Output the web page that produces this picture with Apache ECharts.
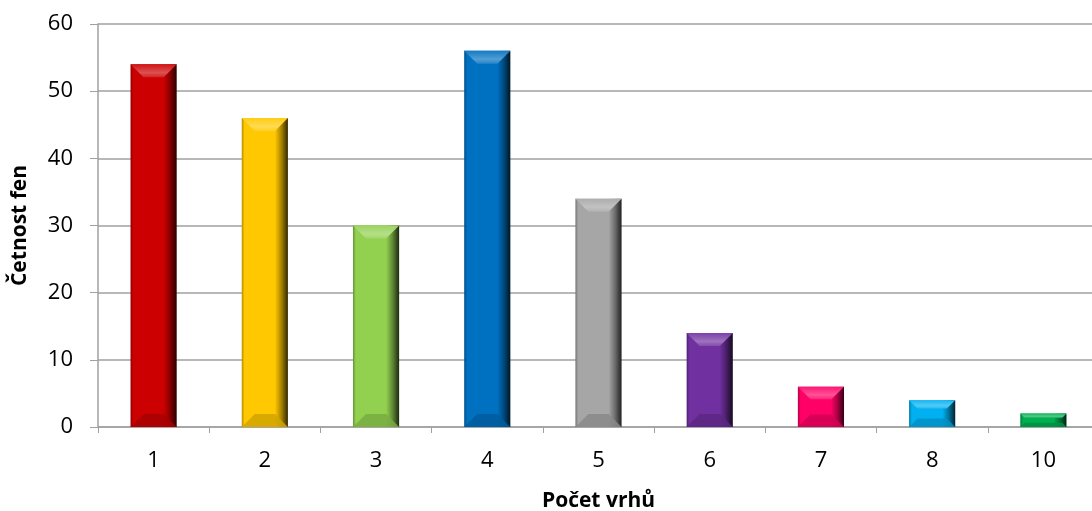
<!DOCTYPE html>
<html><head><meta charset="utf-8">
<script src="https://cdn.jsdelivr.net/npm/echarts@6/dist/echarts.min.js"></script>
<style>html,body{margin:0;padding:0;background:#fff}#c{width:1092px;height:511px}</style>
</head><body><div id="c"></div>
<script>
const categories = ['1','2','3','4','5','6','7','8','10'];
const values = [54, 46, 30, 56, 34, 14, 6, 4, 2];
const barColors = ['#CC0000','#FFC800','#92D050','#0070C0','#A6A6A6','#7030A0','#FF0066','#00B0F0','#00B050'];
const yTicks = [0,10,20,30,40,50,60];

function hexToRgb(h){h=h.replace('#','');return [parseInt(h.substr(0,2),16),parseInt(h.substr(2,2),16),parseInt(h.substr(4,2),16)];}
function mix(h, t, k){const c=hexToRgb(h);const r=c.map(v=>Math.round(v+(t-v)*k));return 'rgb('+r.join(',')+')';}
const lighten=(h,k)=>mix(h,255,k), darken=(h,k)=>mix(h,0,k);

function renderItem(params, api){
  const i = params.dataIndex;
  const col = barColors[i % barColors.length];
  const top = api.coord([api.value(0), api.value(1)]);
  const base = api.coord([api.value(0), 0]);
  const bw = api.size([1,0])[0]*0.415;
  const x0 = top[0]-bw/2, x1 = top[0]+bw/2, y0 = top[1], y1 = base[1];
  const h = y1-y0;
  const d = Math.min(13, h/3.2);
  const children = [
    {type:'rect', shape:{x:x0,y:y0,width:bw,height:h}, style:{fill:new echarts.graphic.LinearGradient(0,0,1,0,[
      {offset:0,color:darken(col,0.3)},{offset:0.06,color:col},{offset:0.72,color:col},
      {offset:0.86,color:darken(col,0.35)},{offset:1,color:darken(col,0.8)}])}},
    {type:'polygon', shape:{points:[[x0,y0],[x1,y0],[x1-d,y0+d],[x0+d,y0+d]]},
      style:{fill:new echarts.graphic.LinearGradient(0,0,0,1,[
        {offset:0,color:lighten(col,0.08)},{offset:0.65,color:lighten(col,0.32)},{offset:1,color:lighten(col,0.14)}])}},
    {type:'polygon', shape:{points:[[x0,y1],[x1,y1],[x1-d,y1-d],[x0+d,y1-d]]},
      style:{fill:darken(col,0.18), opacity:0.85}}
  ];
  return {type:'group', children};
}

const chart = echarts.init(document.getElementById('c'));
const ff = '"Open Sans", "Noto Sans", sans-serif';
chart.setOption({
  animation:false,
  grid:{left:98, right:-7, top:24, bottom:84, containLabel:false, outerBoundsMode:'none'},
  xAxis:{type:'category', data:categories,
    name:'Počet vrhů', nameLocation:'middle', nameGap:64,
    nameTextStyle:{fontFamily:ff, fontWeight:'bold', fontSize:21, color:'#000'},
    axisLine:{lineStyle:{color:'#A0A0A0', width:1.5}},
    axisTick:{show:true, length:6, lineStyle:{color:'#A0A0A0'}},
    axisLabel:{fontFamily:ff, fontSize:22, color:'#000', margin:23}},
  yAxis:{type:'value', min:yTicks[0], max:yTicks[yTicks.length-1], interval:10,
    name:'Četnost fen', nameLocation:'middle', nameGap:67,
    nameTextStyle:{fontFamily:ff, fontWeight:'bold', fontSize:21, color:'#000'},
    axisLine:{show:true, lineStyle:{color:'#A0A0A0', width:1.5}},
    axisTick:{show:true, length:8, lineStyle:{color:'#A0A0A0'}},
    splitLine:{lineStyle:{color:'#A0A0A0', width:1.5}},
    axisLabel:{fontFamily:ff, fontSize:22, color:'#000', margin:25}},
  series:[{type:'custom', renderItem, encode:{x:0,y:1},
    data: categories.map((c,i)=>[i, values[i]])}]
});
</script></body></html>
